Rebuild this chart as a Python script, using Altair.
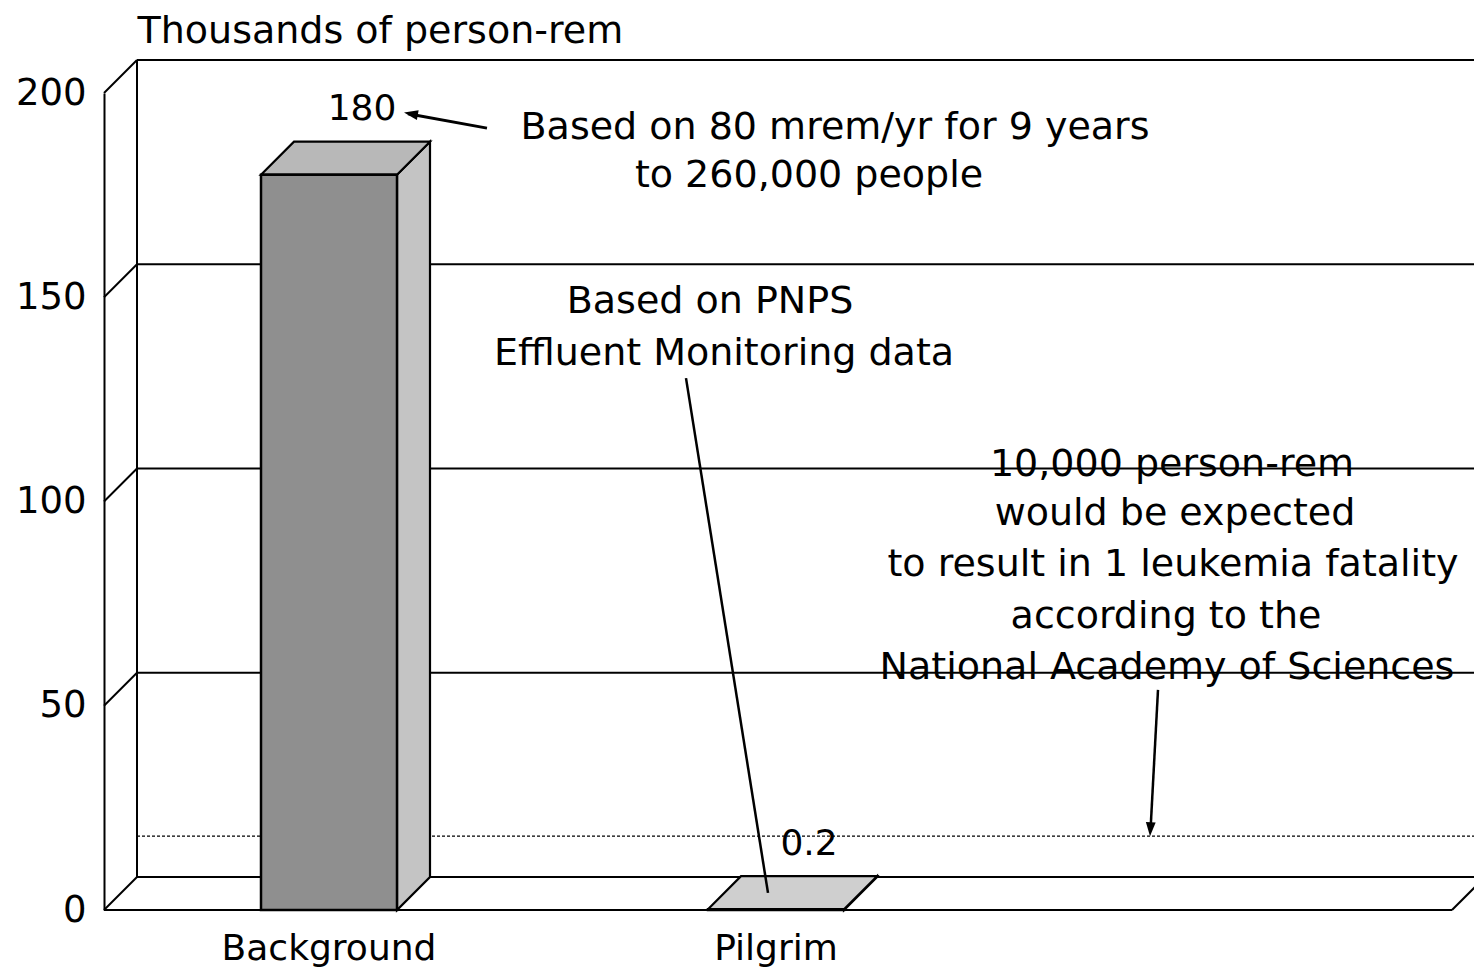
import altair as alt
import pandas as pd

# ---------------- data ----------------
categories = ["Background", "Pilgrim"]
values = [180, 0.2]                      # thousands of person-rem
value_labels = ["180", "0.2"]
y_ticks = [0, 50, 100, 150, 200]
reference_level = 10                     # 10,000 person-rem

note_lines = [
    "Based on 80 mrem/yr for 9 years",
    "to 260,000 people",
    "Based on PNPS",
    "Effluent Monitoring data",
    "10,000 person-rem",
    "would be expected",
    "to result in 1 leukemia fatality",
    "according to the",
    "National Academy of Sciences",
]

# ---------------- layout ----------------
W, H = 1370, 817                 # plot area (x scale is in pixels)
YMAX = 200
PXU = H / YMAX                   # pixels per y unit
DX = 33                          # depth offset (px)
D = DX / PXU                     # depth offset (y units)
BAR_W = 136
bar_centers = [225, 672]
FLOOR_END = 1348
FONT = "DejaVu Sans"
FS = 38

# note positions (x px, y units)
note_pos = [(731, 191.4), (705, 179.7), (606, 148.8), (620, 136.1),
            (1068, 108.9), (1071, 96.9), (1069, 84.5), (1062, 71.7), (1063, 59.2)]

xs = alt.Scale(domain=[0, W], nice=False, zero=False)
ys = alt.Scale(domain=[0, YMAX], nice=False, zero=False)

Y_AX = alt.Axis(
    values=y_ticks, format="d", ticks=False, grid=False,
    domain=True, domainColor="black", domainWidth=2,
    labelFont=FONT, labelFontSize=37, labelColor="black", labelPadding=18,
    title="Thousands of person-rem", titleFont=FONT, titleFontSize=38,
    titleFontWeight="normal", titleColor="black", titleAngle=0,
    titleAlign="left", titleBaseline="middle", titleX=DX, titleY=-62)


def X(f):
    return alt.X(f, scale=xs, axis=None)


def Y(f, **kw):
    return alt.Y(f, scale=ys, axis=Y_AX, **kw)


# ---- frame segments ----
seg = []
for v in y_ticks:
    seg.append(dict(x=DX, x2=W, y=v + D, y2=v + D))      # back wall lines
    seg.append(dict(x=0, x2=DX, y=v, y2=v + D))          # depth connectors
seg.append(dict(x=DX, x2=DX, y=D, y2=YMAX + D))          # back wall edge
seg.append(dict(x=0, x2=FLOOR_END, y=0, y2=0))           # front floor
seg.append(dict(x=FLOOR_END, x2=FLOOR_END + DX, y=0, y2=D))
seg_df = pd.DataFrame(seg)

frame = alt.Chart(seg_df).mark_rule(color="black", strokeWidth=2).encode(
    x=X("x:Q"), x2="x2:Q", y=Y("y:Q"), y2="y2:Q",
)

ref_df = pd.DataFrame([dict(x=DX, x2=W, y=reference_level + D, y2=reference_level + D)])
ref_line = alt.Chart(ref_df).mark_rule(color="black", strokeWidth=1.4, strokeDash=[3, 2]).encode(
    x=X("x:Q"), x2="x2:Q", y=Y("y:Q"), y2="y2:Q",
)

# ---- bars (3D boxes) ----
fronts, faces = [], []
for cat, c, v in zip(categories, bar_centers, values):
    xl, xr = c - BAR_W / 2, c + BAR_W / 2
    fronts.append(dict(cat=cat, x=xl, x2=xr, y=0, y2=v))
    # right side face
    faces.append(dict(face=cat + "-side", x=xr, yt=v, yb=0, fill="#c4c4c4"))
    faces.append(dict(face=cat + "-side", x=xr + DX, yt=v + D, yb=D, fill="#c4c4c4"))
    # top face
    topfill = "#b8b8b8" if v > 1 else "#cfcfcf"
    faces.append(dict(face=cat + "-top", x=xl, yt=v, yb=v, fill=topfill))
    faces.append(dict(face=cat + "-top", x=xl + DX, yt=v + D, yb=v, fill=topfill))
    faces.append(dict(face=cat + "-top", x=xr, yt=v + D, yb=v, fill=topfill))
    faces.append(dict(face=cat + "-top", x=xr + DX, yt=v + D, yb=v + D, fill=topfill))
front_df = pd.DataFrame(fronts)
face_df = pd.DataFrame(faces)

face_layer = alt.Chart(face_df).mark_area(
    orient="vertical", stroke="black", strokeWidth=2.2, strokeJoin="miter", opacity=1
).encode(
    x=X("x:Q"),
    y=Y("yt:Q", stack=None),
    y2="yb:Q",
    detail="face:N",
    fill=alt.Fill("fill:N", scale=None),
)

front_layer = alt.Chart(front_df).mark_rect(
    fill="#8f8f8f", stroke="black", strokeWidth=2.5
).encode(
    x=X("x:Q"), x2="x2:Q", y=Y("y:Q"), y2="y2:Q",
)

# ---- value labels & category labels ----
lab_df = pd.DataFrame(dict(
    cat=categories, label=value_labels,
    x=[c + DX for c in bar_centers],
    y=[v + D + 8 for v in values],
    xc=bar_centers,
))
value_text = alt.Chart(lab_df).mark_text(
    font=FONT, fontSize=36, color="black", align="center", baseline="middle"
).encode(
    x=X("x:Q"), y=Y("y:Q"), text="label:N",
)
cat_text = alt.Chart(lab_df).transform_calculate(zero="0").mark_text(
    font=FONT, fontSize=36, color="black", align="center", baseline="alphabetic", dy=50
).encode(
    x=X("xc:Q"), y=Y("zero:Q"), text="cat:N",
)

# ---- notes ----
note_df = pd.DataFrame(dict(
    text=note_lines, x=[p[0] for p in note_pos], y=[p[1] for p in note_pos]))
notes = alt.Chart(note_df).mark_text(
    font=FONT, fontSize=FS, color="black", align="center", baseline="middle"
).encode(
    x=X("x:Q"), y=Y("y:Q"), text="text:N",
)

# ---- leader lines and arrowheads ----
lead_df = pd.DataFrame([
    dict(x=383, y=191.4, x2=304, y2=194.9, w=3),
    dict(x=582, y=130.2, x2=664, y2=4.2, w=2.5),
    dict(x=1054, y=53.9, x2=1046.5, y2=19.5, w=2.5),
])
leaders = alt.Chart(lead_df).mark_rule(color="black").encode(
    x=X("x:Q"), x2="x2:Q", y=Y("y:Q"), y2="y2:Q",
    strokeWidth=alt.StrokeWidth("w:Q", scale=None),
)
head_left = alt.Chart(pd.DataFrame([dict(x=300, y=195.2)])).mark_point(
    shape="M0,0L2,-0.7L2,0.7Z", filled=True, size=196, angle=10.4,
    color="black", opacity=1, strokeWidth=0
).encode(x=X("x:Q"), y=Y("y:Q"))
head_down = alt.Chart(pd.DataFrame([dict(x=1046, y=reference_level + D)])).mark_point(
    shape="M0,0L-0.7,-2L0.7,-2Z", filled=True, size=196, angle=3.2,
    color="black", opacity=1, strokeWidth=0
).encode(x=X("x:Q"), y=Y("y:Q"))

chart = alt.layer(
    frame, ref_line, face_layer, front_layer, value_text, cat_text,
    notes, leaders, head_left, head_down
).properties(
    width=W, height=H,
    autosize=alt.AutoSizeParams(type="none"),
    padding={"left": 96, "top": 85, "right": 0, "bottom": 60},
    background="white",
).configure_view(stroke=None)

chart.save("out.html", embed_options={"renderer": "svg", "actions": False})
